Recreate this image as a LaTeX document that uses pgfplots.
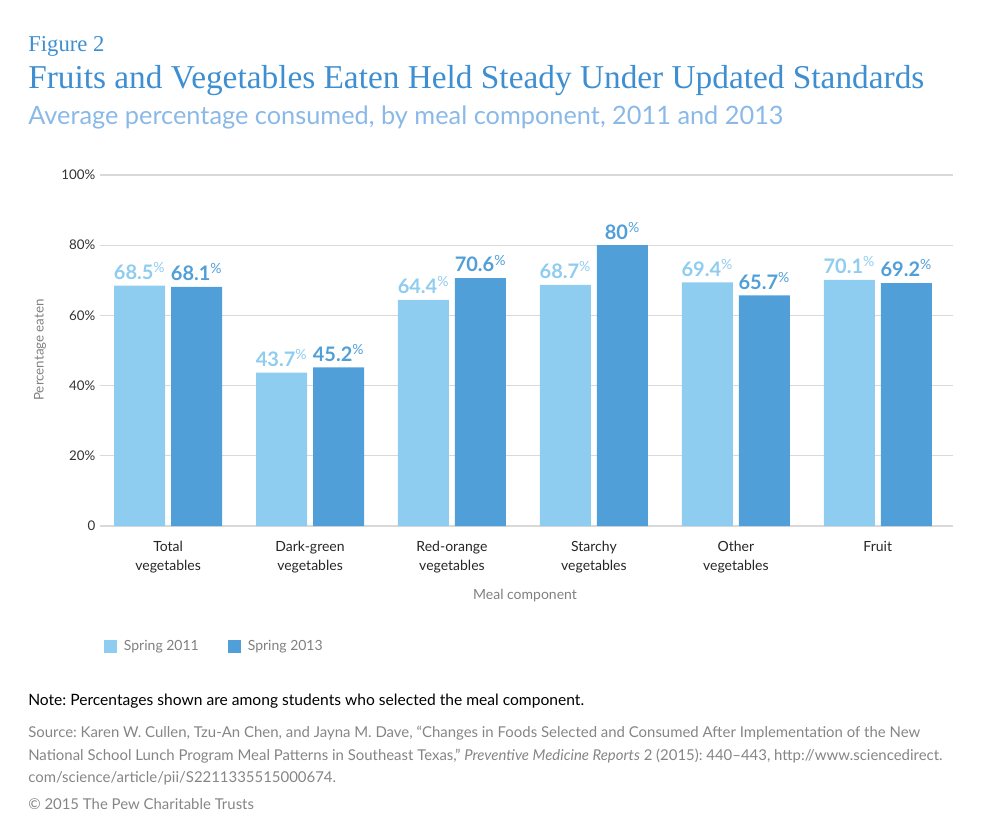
\documentclass[border=0pt]{standalone}
\usepackage{fontspec}
\setmainfont{Lato}
\newfontfamily\slab{Liberation Serif}
\usepackage{pgfplots}
\pgfplotsset{compat=1.18}

\definecolor{lightbar}{HTML}{8ECCF0}
\definecolor{darkbar}{HTML}{519FD8}
\definecolor{titleblue}{HTML}{3D8FD1}
\definecolor{subblue}{HTML}{8AB9E8}
\definecolor{labgray}{HTML}{808080}
\definecolor{srcgray}{HTML}{858585}
\definecolor{gridgray}{HTML}{D9D9D9}

\begin{document}
\frenchspacing
\begin{tikzpicture}
% page frame, 990 x 835 px at 0.75pt per px
\path (0,0) rectangle (742.5pt,-626.25pt);

\begin{axis}[
    at={(75pt,-394.5pt)}, anchor=south west,
    scale only axis,
    width=639.75pt, height=263.25pt,
    ybar=4.5pt, bar width=38.25pt,
    xmin=-0.48, xmax=5.53,
    ymin=0, ymax=100,
    xtick=data,
    xticklabels={Total\\vegetables, Dark-green\\vegetables, Red-orange\\vegetables, Starchy\\vegetables, Other\\vegetables, Fruit},
    xticklabel style={align=center, font=\fontsize{10.5pt}{14.25pt}\selectfont, text=black!85, yshift=-8pt},
    ytick={0,20,40,60,80,100},
    yticklabels={0,20\%,40\%,60\%,80\%,100\%},
    yticklabel style={font=\fontsize{10pt}{12pt}\selectfont, text=black!80},
    major tick length=0pt,
    axis line style={draw=none},
    ymajorgrids, grid style={gridgray, line width=0.8pt},
    /pgf/number format/assume math mode=true,
    nodes near coords={\pgfmathprintnumber{\pgfplotspointmeta}\textsuperscript{\normalfont\%}},
    every node near coord/.append style={font=\fontsize{15pt}{17pt}\selectfont\bfseries, yshift=1pt},
    legend style={at={(axis description cs:0,-0.342)}, anchor=west, draw=none,
        legend columns=-1, font=\fontsize{10.5pt}{12pt}\selectfont, text=labgray,
        /tikz/every odd column/.append style={column sep=3pt},
        /tikz/every even column/.append style={column sep=20pt}},
    legend image code/.code={\fill[#1] (0pt,-4.9pt) rectangle (9.75pt,4.9pt);},
]
\addplot[fill=lightbar, draw=none, every node near coord/.append style={text=lightbar}]
    coordinates {(0,68.5) (1,43.7) (2,64.4) (3,68.7) (4,69.4) (5,70.1)};
\addplot[fill=darkbar, draw=none, every node near coord/.append style={text=darkbar}]
    coordinates {(0,68.1) (1,45.2) (2,70.6) (3,80) (4,65.7) (5,69.2)};
\legend{Spring 2011, Spring 2013}
\end{axis}

\begin{scope}[x=0.75pt, y=-0.75pt]
% titles
\node[anchor=base west, inner sep=0, text=titleblue, font=\slab\fontsize{17pt}{20pt}\selectfont] at (28,51) {Figure 2};
\node[anchor=base west, inner sep=0, text=titleblue, font=\slab\fontsize{25pt}{28pt}\selectfont] at (28,88) {Fruits and Vegetables Eaten Held Steady Under Updated Standards};
\node[anchor=base west, inner sep=0, text=subblue, font=\fontsize{19pt}{24pt}\selectfont] at (28,124) {Average percentage consumed, by meal component, 2011 and 2013};
% axis titles
\node[rotate=90, text=labgray, font=\fontsize{10pt}{12pt}\selectfont] at (40,350) {Percentage eaten};
\node[text=labgray, font=\fontsize{10.5pt}{12pt}\selectfont] at (525,596) {Meal component};
% notes
\node[anchor=base west, inner sep=0, text=black, font=\fontsize{11.7pt}{13pt}\selectfont] at (28,705) {Note: Percentages shown are among students who selected the meal component.};
\node[anchor=base west, inner sep=0, text=srcgray, font=\fontsize{11.2pt}{12pt}\selectfont] at (28,737) {Source: Karen W. Cullen, Tzu-An Chen, and Jayna M. Dave, “Changes in Foods Selected and Consumed After Implementation of the New};
\node[anchor=base west, inner sep=0, text=srcgray, font=\fontsize{11.2pt}{12pt}\selectfont] at (28,760) {National School Lunch Program Meal Patterns in Southeast Texas,” \textit{Preventive Medicine Reports} 2 (2015): 440–443, http://www.sciencedirect.};
\node[anchor=base west, inner sep=0, text=srcgray, font=\fontsize{11.2pt}{12pt}\selectfont] at (28,782) {com/science/article/pii/S2211335515000674.};
\node[anchor=base west, inner sep=0, text=srcgray, font=\fontsize{11.2pt}{12pt}\selectfont] at (28,809) {© 2015 The Pew Charitable Trusts};
\end{scope}
\end{tikzpicture}
\end{document}
